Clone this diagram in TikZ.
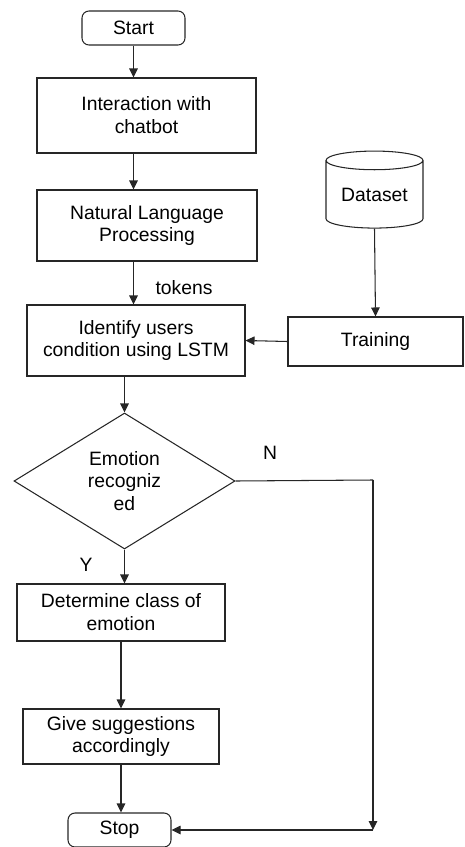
\documentclass[tikz,border=0pt]{standalone}
\usepackage{fontspec}
\setmainfont{Liberation Sans}
\usetikzlibrary{shapes.geometric,arrows.meta}
\begin{document}
\begin{tikzpicture}[font=\fontsize{11}{13}\selectfont, line width=0.6pt, draw=black!85,
        >={Triangle[length=1.8mm,width=1.7mm]},
        box/.style={draw, rectangle, align=center, inner sep=0pt},
        term/.style={draw, rectangle, rounded corners=4pt, minimum width=2.06cm, minimum height=0.68cm, inner sep=0pt},
        lbl/.style={inner sep=0pt}]
        \useasboundingbox (0,0) rectangle (9.3,-16.94);
        \node[term] (start) at (2.67,-0.56) {Start};
        \node[box, minimum width=4.38cm, minimum height=1.5cm] (inter) at (2.93,-2.31) {Interaction with\\chatbot};
        \node[box, minimum width=4.4cm, minimum height=1.42cm] (nlp) at (2.94,-4.51) {Natural Language\\Processing};
        \node[box, minimum width=4.36cm, minimum height=1.42cm] (ident) at (2.72,-6.81) {Identify users\\condition using LSTM};
        \node[box, minimum width=3.5cm, minimum height=0.98cm] (train) at (7.51,-6.83) {Training};
        \node[draw, cylinder, shape border rotate=90, aspect=0.28, minimum width=1.94cm, minimum height=1.54cm, inner sep=0pt] (data) at (7.49,-3.89) {Dataset};
        \node[draw, diamond, aspect=1.6, minimum width=4.42cm, minimum height=2.72cm, align=center, inner sep=0pt] (dia) at (2.49,-9.62) {Emotion\\recogniz\\ed};
        \node[box, minimum width=4.16cm, minimum height=1.14cm] (class) at (2.42,-12.25) {Determine class of\\emotion};
        \node[box, minimum width=3.92cm, minimum height=1.1cm] (suggest) at (2.42,-14.73) {Give suggestions\\accordingly};
        \node[term] (stop) at (2.39,-16.6) {Stop};
        \node[lbl] (tok) at (3.68,-5.76) {tokens};
        \node[lbl] (no) at (5.4,-9.06) {N};
        \node[lbl] (yes) at (1.72,-11.3) {Y};
        \coordinate (ncor) at (7.46,-9.6);
        \coordinate (nend) at (7.46,-16.6);
        \draw[->] (start.south) -- (start.south |- inter.north);
        \draw[->] (inter.south -| start.south) -- (start.south |- nlp.north);
        \draw[->] (nlp.south -| start.south) -- (start.south |- ident.north);
        \draw[->] (data.south) -- (train.north);
        \draw[->] (train.west) -- (ident.east);
        \draw[->] (ident.south -| dia.north) -- (dia.north);
        \draw[->] (dia.south) -- (dia.south |- class.north);
        \draw[->] (class.south) -- (class.south |- suggest.north);
        \draw[->] (suggest.south) -- (suggest.south |- stop.north);
        \draw (dia.east) -- (ncor);
        \draw[->] (ncor) -- (nend);
        \draw[->] (nend) -- (stop.east);
\end{tikzpicture}
\end{document}
